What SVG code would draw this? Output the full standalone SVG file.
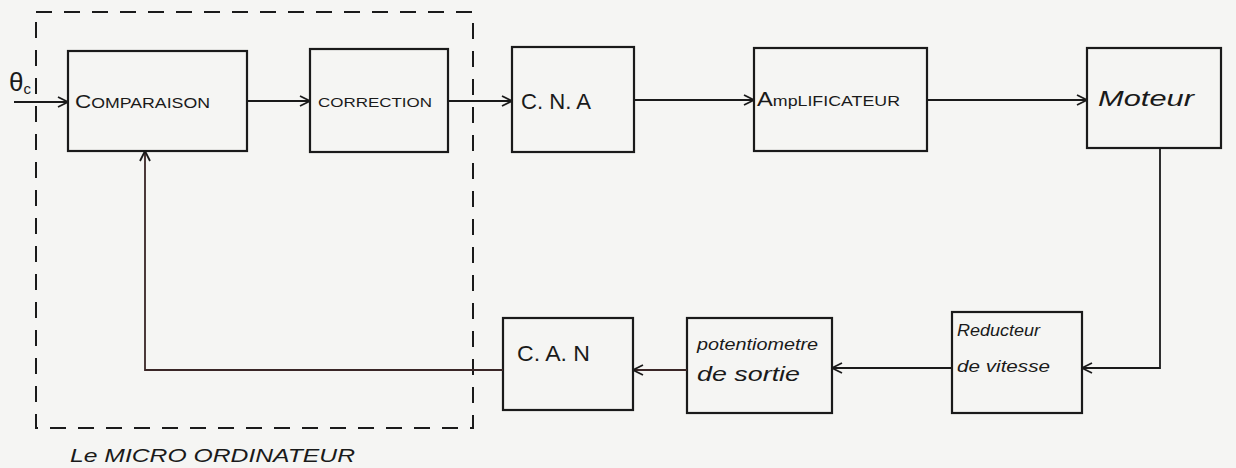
<svg xmlns="http://www.w3.org/2000/svg" width="1236" height="468" viewBox="0 0 1236 468">
<defs>
<marker id="arr" viewBox="0 0 12 12" refX="11" refY="6" markerWidth="12" markerHeight="12" markerUnits="userSpaceOnUse" orient="auto">
<path d="M1,1 L11,6 L1,11" fill="none" stroke="#1a1a1a" stroke-width="1.8"/>
</marker>
</defs>
<style>
.box{fill:none;stroke:#1a1a1a;stroke-width:2.2}
.ln{fill:none;stroke:#1a1a1a;stroke-width:1.8}
.fb{fill:none;stroke:#3a2626;stroke-width:1.8}
.t{font-family:"Liberation Sans",Arial,sans-serif;fill:#1a1a1a}
.i{font-family:"Liberation Sans",Arial,sans-serif;font-style:italic;fill:#1a1a1a}
</style>
<rect width="1236" height="468" fill="#f5f5f3"/>
<g id="microordinateur">
<rect x="36" y="12" width="437" height="416" fill="none" stroke="#1a1a1a" stroke-width="2" stroke-dasharray="16,12"/>
<text class="i" x="70" y="462" font-size="19" textLength="285" lengthAdjust="spacingAndGlyphs">Le MICRO ORDINATEUR</text>
</g>
<g id="input">
<text class="t" x="9" y="91" font-size="26">θ<tspan font-size="15" dy="3">c</tspan></text>
</g>
<g id="comparaison">
<rect class="box" x="68" y="51" width="179" height="100"/>
<text class="t" x="75" y="108" font-size="15" textLength="135" lengthAdjust="spacingAndGlyphs"><tspan font-size="19">C</tspan>OMPARAISON</text>
</g>
<g id="correction">
<rect class="box" x="310" y="49" width="138" height="103"/>
<text class="t" x="318" y="107" font-size="13" textLength="114" lengthAdjust="spacingAndGlyphs">CORRECTION</text>
</g>
<g id="cna">
<rect class="box" x="512" y="47" width="122" height="105"/>
<text class="t" x="521" y="109" font-size="22" textLength="70" lengthAdjust="spacingAndGlyphs">C. N. A</text>
</g>
<g id="amplificateur">
<rect class="box" x="754" y="48" width="173" height="103"/>
<text class="t" x="757" y="106" font-size="15" textLength="143" lengthAdjust="spacingAndGlyphs"><tspan font-size="20">A</tspan>mpLIFICATEUR</text>
</g>
<g id="moteur">
<rect class="box" x="1087" y="48" width="134" height="100"/>
<text class="i" x="1098" y="106" font-size="22" textLength="96" lengthAdjust="spacingAndGlyphs">Moteur</text>
</g>
<g id="reducteur">
<rect class="box" x="952" y="312" width="130" height="101"/>
<text class="i" x="957" y="336" font-size="17" textLength="83" lengthAdjust="spacingAndGlyphs">Reducteur</text>
<text class="i" x="957" y="372" font-size="17" textLength="93" lengthAdjust="spacingAndGlyphs">de vitesse</text>
</g>
<g id="potentiometre">
<rect class="box" x="687" y="318" width="145" height="95"/>
<text class="i" x="697" y="350" font-size="17" textLength="121" lengthAdjust="spacingAndGlyphs">potentiometre</text>
<text class="i" x="697" y="381" font-size="20" textLength="103" lengthAdjust="spacingAndGlyphs">de sortie</text>
</g>
<g id="can">
<rect class="box" x="503" y="318" width="130" height="92"/>
<text class="t" x="517" y="361" font-size="22" textLength="73" lengthAdjust="spacingAndGlyphs">C. A. N</text>
</g>
<g id="connectors">
<line class="ln" x1="14" y1="102" x2="68" y2="102" marker-end="url(#arr)"/>
<line class="ln" x1="247" y1="101" x2="310" y2="101" marker-end="url(#arr)"/>
<line class="ln" x1="448" y1="101" x2="512" y2="101" marker-end="url(#arr)"/>
<line class="ln" x1="634" y1="100" x2="754" y2="100" marker-end="url(#arr)"/>
<line class="ln" x1="927" y1="100" x2="1087" y2="100" marker-end="url(#arr)"/>
<polyline class="ln" points="1160,148 1160,368 1082,368" marker-end="url(#arr)"/>
<line class="ln" x1="952" y1="368" x2="832" y2="368" marker-end="url(#arr)"/>
<line class="fb" x1="687" y1="370" x2="633" y2="370" marker-end="url(#arr)"/>
<polyline class="fb" points="503,370 145,370 145,151" marker-end="url(#arr)"/>
</g>
</svg>
